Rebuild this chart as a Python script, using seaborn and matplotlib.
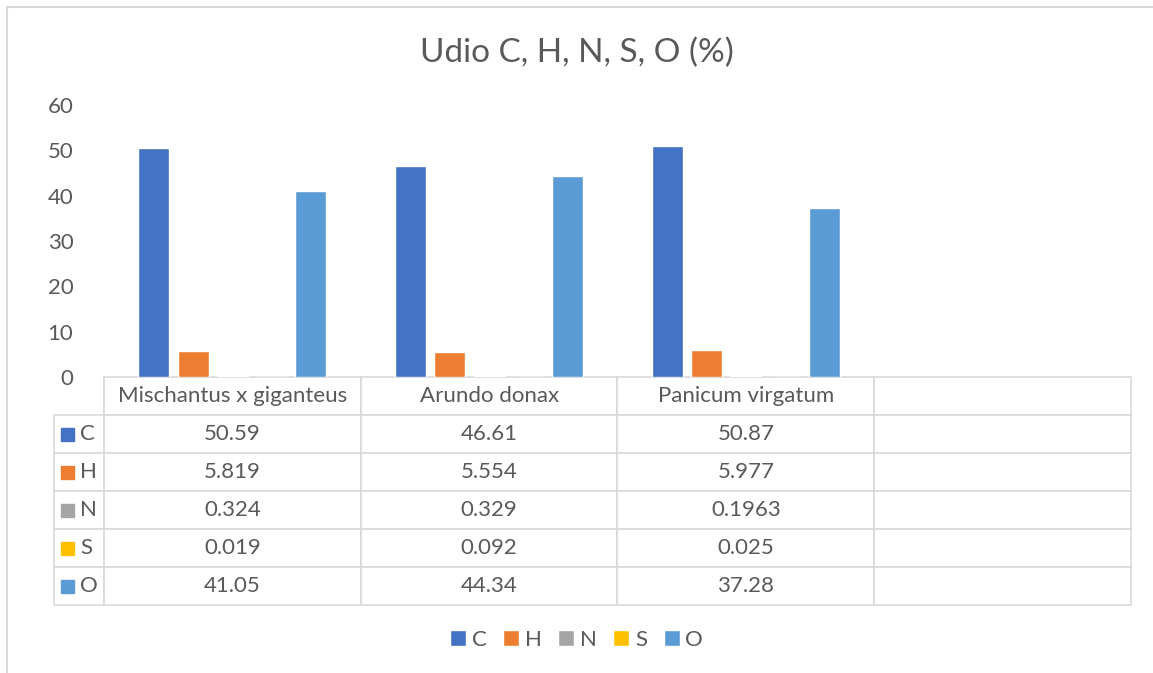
import numpy as np
import matplotlib.pyplot as plt
import pandas as pd
import seaborn as sns
from matplotlib.patches import Rectangle

species = ["Mischantus x giganteus", "Arundo donax", "Panicum virgatum"]
elements = ["C", "H", "N", "S", "O"]
c_vals = [50.59, 46.61, 50.87]
h_vals = [5.819, 5.554, 5.977]
n_vals = [0.324, 0.329, 0.1963]
s_vals = [0.019, 0.092, 0.025]
o_vals = [41.05, 44.34, 37.28]
c_text = ["50.59", "46.61", "50.87"]
h_text = ["5.819", "5.554", "5.977"]
n_text = ["0.324", "0.329", "0.1963"]
s_text = ["0.019", "0.092", "0.025"]
o_text = ["41.05", "44.34", "37.28"]
colors = ["#4472C4", "#ED7D31", "#A5A5A5", "#FFC000", "#5B9BD5"]

sns.set_theme(style="white")
plt.rcParams['font.family'] = ['Lato', 'DejaVu Sans']
txt = "#595959"

df = pd.DataFrame({
    "species": np.repeat(species, 5),
    "element": elements * 3,
    "value": [v for i in range(3) for v in (c_vals[i], h_vals[i], n_vals[i], s_vals[i], o_vals[i])],
})

fig = plt.figure(figsize=(11.53, 6.73), dpi=100)
ax = fig.add_axes([104 / 1153, 1 - 377 / 673, 1027 / 1153, 272 / 673])

sns.barplot(data=df, x="species", y="value", hue="element", hue_order=elements,
            order=species + [" "], palette=colors, saturation=1, width=0.764, gap=0.21,
            ax=ax, legend=True)
ax.set_xlim(-0.5, 3.5)
ax.set_ylim(0, 60)
ax.set_yticks(range(0, 61, 10))
ax.tick_params(axis='y', labelsize=16, labelcolor=txt, length=0, pad=22)
ax.set_xticks([])
ax.set_xlabel("")
ax.set_ylabel("")
for s in ax.spines.values():
    s.set_visible(False)

handles, labels = ax.get_legend_handles_labels()
ax.get_legend().remove()

# data table
rows = [c_text, h_text, n_text, s_text, o_text]
cell_text = [[""] + species + [""]] + [[""] + r + [""] for r in rows]
col_w = [50, 257, 257, 257, 257]
tbl = ax.table(cellText=cell_text, colWidths=[w / sum(col_w) for w in col_w],
               cellLoc='center', bbox=[-50 / 1027, -228 / 272, 1077 / 1027, 228 / 272])
tbl.auto_set_font_size(False)
tbl.set_fontsize(16)
for (r, c), cell in tbl.get_celld().items():
    cell.set_edgecolor("#D9D9D9")
    cell.set_linewidth(1.2)
    cell.get_text().set_color(txt)
    if r == 0 and c == 0:
        cell.visible_edges = "R"

row_h = 228 / 272 / 6
for i, el in enumerate(elements):
    yc = -228 / 272 + row_h * (4.5 - i)
    ax.add_patch(Rectangle((-43 / 1027, yc - 6.5 / 272), 13 / 1027, 13 / 272,
                           transform=ax.transAxes, color=colors[i], clip_on=False))
    ax.text(-24 / 1027, yc, el, transform=ax.transAxes, fontsize=16, color=txt,
            ha='left', va='center')

fig.suptitle("Udio C, H, N, S, O (%)", fontsize=24, color=txt, y=1 - 53 / 673, va='center')
fig.legend(handles, labels, loc='center', bbox_to_anchor=(0.5, 1 - 640 / 673), ncol=5,
           frameon=False, fontsize=16, labelcolor=txt, handlelength=0.72, handleheight=0.72,
           handletextpad=0.25, columnspacing=0.75)

fig.add_artist(Rectangle((7 / 1153, -0.01), 1.05, 1 - 7 / 673 + 0.01, transform=fig.transFigure,
                         fill=False, edgecolor="#D9D9D9", linewidth=1.5))

fig.savefig("out.png", dpi=100)
